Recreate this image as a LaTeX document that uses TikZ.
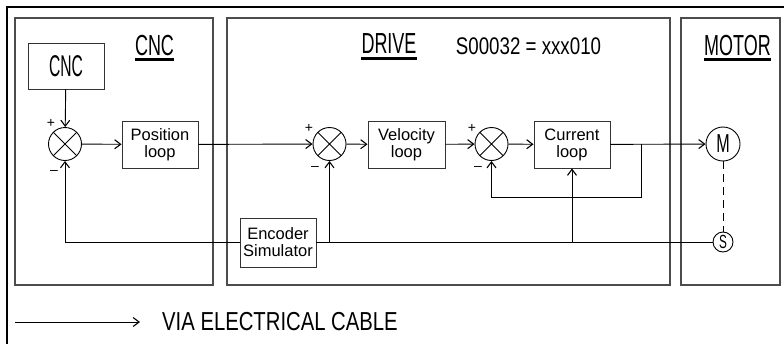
\documentclass[tikz,border=0pt]{standalone}
\usepackage{fontspec}
\setmainfont{Liberation Sans}
\newfontfamily\titlefont[FakeStretch=0.62]{Liberation Sans}
\newfontfamily\boxcapfont[FakeStretch=0.52]{Liberation Sans}
\newfontfamily\midfont[FakeStretch=0.78]{Liberation Sans}
\usetikzlibrary{arrows.meta}
\begin{document}
\begin{tikzpicture}[x=1pt,y=-1pt,
  panel/.style={draw=black!70, line width=1.2pt},
  blk/.style={draw=black!80, line width=0.9pt, minimum width=76pt, minimum height=47pt, inner sep=0pt, align=center, font=\fontsize{16.5}{17}\selectfont},
  sumj/.style={circle, draw=black, line width=0.9pt, minimum size=33pt, inner sep=0pt,
    path picture={\draw[line width=0.8pt] (path picture bounding box.north west)--(path picture bounding box.south east) (path picture bounding box.north east)--(path picture bounding box.south west);}},
  conn/.style={line width=0.9pt},
  arr/.style={conn, -{Straight Barb[length=6pt,width=9pt,line width=1.1pt]}},
  sign/.style={font=\fontsize{14}{14}\selectfont, inner sep=0pt},
  ttl/.style={font=\titlefont\fontsize{29}{29}\selectfont, inner sep=0pt, anchor=base},
  uline/.style={line width=3.5pt}
]
\useasboundingbox (0,0) rectangle (784,343);
\clip (0,0) rectangle (784,343);
% outer frame
\draw[line width=1.5pt] (7,350) -- (7,7) -- (790,7);
% panels
\draw[panel] (15,18) rectangle (213,285);
\draw[panel] (227,18) rectangle (670,285);
\draw[panel] (681,18) rectangle (780,285);
% titles
\node[ttl] (tcnc) at (154.5,55) {CNC};
\draw[uline] ([yshift=-4.5pt]tcnc.base west) -- ([yshift=-4.5pt]tcnc.base east);
\node[ttl] (tdrive) at (389,53) {DRIVE};
\draw[uline] ([yshift=-5.5pt]tdrive.base west) -- ([yshift=-5.5pt]tdrive.base east);
\node[ttl] (tmotor) at (737.5,55) {MOTOR};
\draw[uline] ([yshift=-4.5pt]tmotor.base west) -- ([yshift=-4.5pt]tmotor.base east);
\node[font=\midfont\fontsize{24}{24}\selectfont, inner sep=0pt, anchor=base] (param) at (528.5,54) {S00032 = xxx010};
% blocks
\node[blk, minimum height=46pt, font=\boxcapfont\fontsize{30}{30}\selectfont] (cncbox) at (66,66) {CNC};
\node[sumj] (s1) at (65,144) {};
\node[blk] (pos) at (160,144.5) {Position\\loop};
\node[sumj] (s2) at (329.5,144) {};
\node[blk, minimum width=77pt] (vel) at (406.5,144.5) {Velocity\\loop};
\node[sumj] (s3) at (491.5,144) {};
\node[blk] (cur) at (572,144.5) {Current\\loop};
\node[blk, minimum height=49pt] (enc) at (278,242.5) {Encoder\\Simulator};
\node[circle, draw=black, line width=0.9pt, minimum size=34pt, inner sep=0pt, font=\titlefont\fontsize{26}{26}\selectfont] (M) at (723,144) {M};
\node[circle, draw=black, line width=0.9pt, minimum size=20pt, inner sep=0pt, font=\titlefont\fontsize{19}{19}\selectfont] (S) at (723,242) {S};
% signs
\node[sign] (p1) at (51,123) {+};
\node[sign] (m1) at (54,172) {–};
\node[sign] (p2) at (309,128) {+};
\node[sign] (m2) at (315,168) {–};
\node[sign] (p3) at (472,128) {+};
\node[sign] (m3) at (478,168) {–};
% connectors
\draw[arr] (cncbox) -- (s1);
\draw[arr] (s1) -- (pos);
\draw[arr] (pos) -- (s2);
\draw[arr] (s2) -- (vel);
\draw[arr] (vel) -- (s3);
\draw[arr] (s3) -- (cur);
\draw[arr] (cur) -- (M);
\coordinate (br) at (641,144);
\coordinate (br1) at (641,197);
\draw[arr] (br) -- (br1) -| (s3);
\draw[conn] (S.west) -- (S.west -| enc.east);
\draw[arr] (enc.west |- S.west) -| (s1);
\coordinate (j2) at (329.5,242);
\coordinate (j3) at (572,242);
\draw[arr] (j2) -- (s2);
\draw[arr] (j3) -- (cur);
\draw[line width=0.9pt, dash pattern=on 8pt off 5pt] (M) -- (S);
% legend
\coordinate (la) at (15,322);
\coordinate (lb) at (140,322);
\draw[arr] (la) -- (lb);
\node[anchor=west, font=\midfont\fontsize{26}{26}\selectfont, inner sep=0pt] (leg) at (162,322) {VIA ELECTRICAL CABLE};
\end{tikzpicture}
\end{document}
